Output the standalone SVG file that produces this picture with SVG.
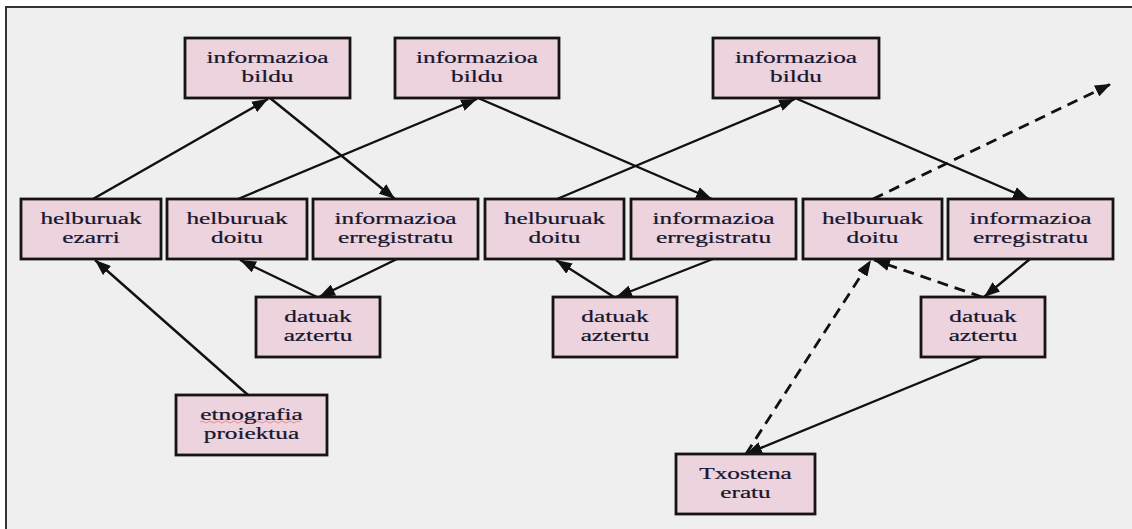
<svg xmlns="http://www.w3.org/2000/svg" width="1132" height="529" viewBox="0 0 1132 529">
  <style>
    .box { fill: #ecd3dd; stroke: #141414; stroke-width: 2.8; }
    .lbl { font-family: "Liberation Serif", "Times New Roman", serif; font-size: 16px; fill: #16162e; stroke: #16162e; stroke-width: 0.2; text-anchor: middle; }
    .edge { fill: none; stroke: #111; stroke-width: 2.4; marker-end: url(#arrow); }
    .dash { stroke-width: 2.8; stroke-dasharray: 11 7; }
  </style>
  <defs>
    <marker id="arrow" markerUnits="userSpaceOnUse" markerWidth="16" markerHeight="12" refX="16" refY="6" orient="auto">
      <path d="M0,0 L16,6 L0,12 Z" fill="#111"/>
    </marker>
  </defs>

  <!-- page frame -->
  <rect x="0" y="0" width="1132" height="529" fill="#ffffff"/>
  <rect x="6" y="7" width="1126" height="522" fill="#efefef"/>
  <path d="M6,529 V7 H1132" fill="none" stroke="#333" stroke-width="2"/>

  <!-- connectors -->
  <g id="connectors">
    <line class="edge" x1="93" y1="199" x2="268" y2="99"/>
    <line class="edge" x1="270" y1="98" x2="395" y2="199"/>
    <line class="edge" x1="238" y1="199" x2="477" y2="99"/>
    <line class="edge" x1="478" y1="98" x2="712" y2="199"/>
    <line class="edge" x1="557" y1="199" x2="795" y2="99"/>
    <line class="edge" x1="795" y1="98" x2="1029" y2="199"/>
    <line class="edge dash" x1="873" y1="199" x2="1111" y2="84"/>
    <line class="edge" x1="397" y1="259" x2="319" y2="297"/>
    <line class="edge" x1="317" y1="297" x2="240" y2="260"/>
    <line class="edge" x1="713" y1="259" x2="616" y2="297"/>
    <line class="edge" x1="614" y1="297" x2="556" y2="260"/>
    <line class="edge" x1="1030" y1="259" x2="984" y2="297"/>
    <line class="edge dash" x1="982" y1="297" x2="874" y2="260"/>
    <line class="edge" x1="982" y1="357" x2="746" y2="454"/>
    <line class="edge dash" x1="746" y1="454" x2="871" y2="260"/>
    <line class="edge" x1="248" y1="395" x2="95" y2="260"/>
  </g>

  <!-- top row: informazioa bildu -->
  <g id="bildu1">
    <rect class="box" x="185" y="38" width="165" height="60"/>
    <text class="lbl" transform="translate(267.5,63) scale(1.58,1)"><tspan x="0">informazioa</tspan><tspan x="0" dy="19">bildu</tspan></text>
  </g>
  <g id="bildu2">
    <rect class="box" x="395" y="38" width="164" height="60"/>
    <text class="lbl" transform="translate(477,63) scale(1.58,1)"><tspan x="0">informazioa</tspan><tspan x="0" dy="19">bildu</tspan></text>
  </g>
  <g id="bildu3">
    <rect class="box" x="713" y="38" width="166" height="60"/>
    <text class="lbl" transform="translate(796,63) scale(1.58,1)"><tspan x="0">informazioa</tspan><tspan x="0" dy="19">bildu</tspan></text>
  </g>

  <!-- middle row -->
  <g id="ezarri">
    <rect class="box" x="21" y="199" width="140" height="60"/>
    <text class="lbl" transform="translate(91,224) scale(1.58,1)"><tspan x="0">helburuak</tspan><tspan x="0" dy="19">ezarri</tspan></text>
  </g>
  <g id="doitu1">
    <rect class="box" x="167" y="199" width="140" height="60"/>
    <text class="lbl" transform="translate(237,224) scale(1.58,1)"><tspan x="0">helburuak</tspan><tspan x="0" dy="19">doitu</tspan></text>
  </g>
  <g id="erreg1">
    <rect class="box" x="313" y="199" width="165" height="60"/>
    <text class="lbl" transform="translate(395.5,224) scale(1.58,1)"><tspan x="0">informazioa</tspan><tspan x="0" dy="19">erregistratu</tspan></text>
  </g>
  <g id="doitu2">
    <rect class="box" x="485" y="199" width="139" height="60"/>
    <text class="lbl" transform="translate(554.5,224) scale(1.58,1)"><tspan x="0">helburuak</tspan><tspan x="0" dy="19">doitu</tspan></text>
  </g>
  <g id="erreg2">
    <rect class="box" x="631" y="199" width="165" height="60"/>
    <text class="lbl" transform="translate(713.5,224) scale(1.58,1)"><tspan x="0">informazioa</tspan><tspan x="0" dy="19">erregistratu</tspan></text>
  </g>
  <g id="doitu3">
    <rect class="box" x="803" y="199" width="139" height="60"/>
    <text class="lbl" transform="translate(872.5,224) scale(1.58,1)"><tspan x="0">helburuak</tspan><tspan x="0" dy="19">doitu</tspan></text>
  </g>
  <g id="erreg3">
    <rect class="box" x="948" y="199" width="165" height="60"/>
    <text class="lbl" transform="translate(1030.5,224) scale(1.58,1)"><tspan x="0">informazioa</tspan><tspan x="0" dy="19">erregistratu</tspan></text>
  </g>

  <!-- datuak aztertu -->
  <g id="aztertu1">
    <rect class="box" x="256" y="297" width="124" height="60"/>
    <text class="lbl" transform="translate(318,322) scale(1.58,1)"><tspan x="0">datuak</tspan><tspan x="0" dy="19">aztertu</tspan></text>
  </g>
  <g id="aztertu2">
    <rect class="box" x="553" y="297" width="124" height="60"/>
    <text class="lbl" transform="translate(615,322) scale(1.58,1)"><tspan x="0">datuak</tspan><tspan x="0" dy="19">aztertu</tspan></text>
  </g>
  <g id="aztertu3">
    <rect class="box" x="921" y="297" width="124" height="60"/>
    <text class="lbl" transform="translate(983,322) scale(1.58,1)"><tspan x="0">datuak</tspan><tspan x="0" dy="19">aztertu</tspan></text>
  </g>

  <!-- start and end -->
  <g id="etnografia">
    <rect class="box" x="176" y="395" width="151" height="60"/>
    <path d="M200,422 q2,-2 4,0 t4,0 t4,0 t4,0 t4,0 t4,0 t4,0 t4,0 t4,0 t4,0 t4,0 t4,0 t4,0 t4,0 t4,0 t4,0 t4,0 t4,0 t4,0 t4,0 t4,0 t4,0 t4,0 t4,0 t4,0" fill="none" stroke="#ee8a8a" stroke-width="1"/>
    <text class="lbl" transform="translate(251.5,420) scale(1.58,1)"><tspan x="0">etnografia</tspan><tspan x="0" dy="19">proiektua</tspan></text>
  </g>
  <g id="txostena">
    <rect class="box" x="676" y="454" width="139" height="60"/>
    <text class="lbl" transform="translate(745.5,479) scale(1.58,1)"><tspan x="0">Txostena</tspan><tspan x="0" dy="19">eratu</tspan></text>
  </g>
</svg>
